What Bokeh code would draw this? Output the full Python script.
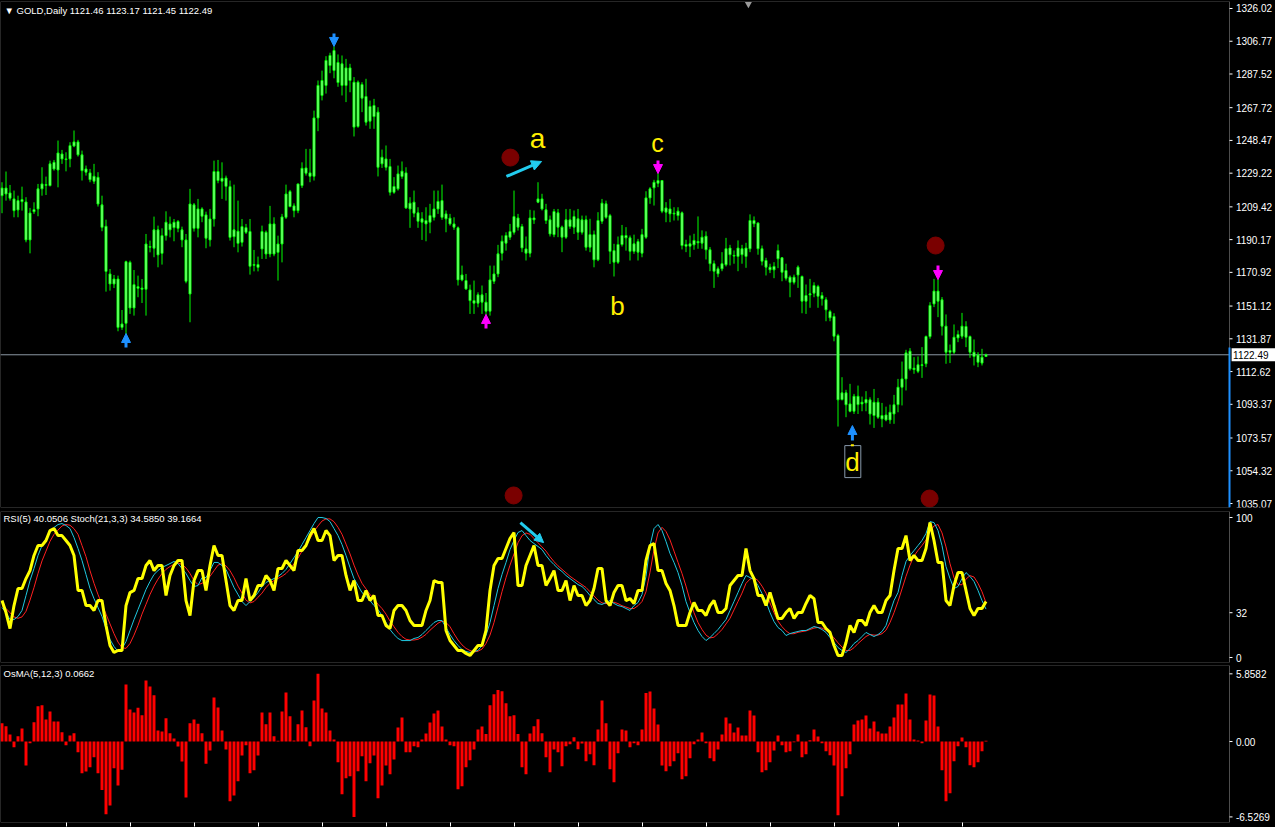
from bokeh.plotting import figure
from bokeh.layouts import column
from bokeh.models import (Range1d, FixedTicker, Label, Arrow, NormalHead,
                          BoxAnnotation, LinearAxis)
from bokeh.core.properties import value
from bokeh.embed import file_html
from bokeh.resources import INLINE

# ---------------- data (GOLD daily) ----------------
high = [1223.9,1230.2,1222.3,1219.0,1216.0,1221.3,1215.1,1208.8,1212.1,1222.9,
        1232.7,1227.2,1236.6,1237.0,1248.4,1242.9,1241.5,1247.4,1254.3,1248.8,
        1242.5,1233.7,1231.7,1234.7,1229.8,1216.0,1201.9,1172.9,1169.4,1169.0,
        1148.8,1177.8,1177.8,1172.3,1169.0,1167.0,1193.5,1189.6,1203.7,1198.4,
        1196.8,1206.8,1203.7,1202.3,1201.7,1197.8,1193.5,1220.0,1211.7,1214.1,
        1209.2,1206.6,1208.2,1236.6,1237.0,1235.6,1227.8,1224.9,1222.5,1213.1,
        1202.3,1199.4,1202.3,1184.1,1180.2,1198.4,1195.5,1210.0,1203.3,1192.5,
        1205.3,1222.5,1219.4,1211.5,1222.9,1235.6,1243.5,1243.5,1266.0,1283.7,
        1289.5,1298.0,1300.0,1303.7,1299.0,1298.4,1296.4,1293.5,1285.7,1283.7,
        1282.7,1284.7,1271.9,1272.9,1268.0,1243.1,1245.5,1237.6,1226.9,1233.7,
        1236.1,1232.7,1215.1,1219.0,1209.2,1206.3,1209.2,1211.2,1219.0,1219.0,
        1222.5,1207.3,1205.3,1203.3,1197.9,1174.9,1170.0,1163.7,1166.1,1159.2,
        1163.2,1158.8,1174.9,1174.9,1187.1,1192.6,1194.5,1199.4,1219.0,1205.3,
        1199.4,1192.0,1207.7,1207.3,1223.9,1217.1,1211.2,1204.3,1208.2,1208.2,
        1198.4,1208.2,1208.2,1207.3,1208.2,1204.3,1204.3,1202.4,1195.5,1206.3,
        1214.1,1213.1,1205.3,1187.7,1192.0,1198.8,1197.5,1192.6,1193.1,1190.6,
        1196.5,1218.6,1221.0,1225.3,1229.2,1224.9,1212.2,1214.1,1209.2,1209.2,
        1206.7,1190.1,1192.6,1193.6,1203.8,1195.6,1195.0,1185.8,1177.9,1174.4,
        1182.8,1191.2,1187.1,1183.8,1189.7,1187.1,1188.3,1205.0,1203.8,1200.4,
        1186.7,1179.5,1176.0,1176.9,1187.3,1179.9,1176.0,1169.1,1169.6,1175.0,
        1169.1,1163.8,1167.1,1165.1,1163.6,1159.3,1156.3,1148.9,1146.9,1134.8,
        1109.3,1101.9,1105.4,1099.5,1104.4,1097.9,1101.1,1097.5,1102.4,1097.1,
        1094.2,1092.0,1093.2,1098.9,1108.3,1118.5,1125.4,1126.4,1121.1,1121.5,
        1127.0,1133.8,1153.4,1167.1,1167.7,1156.4,1146.2,1128.5,1140.3,1136.8,
        1147.1,1142.2,1133.8,1131.5,1124.0,1126.0,1123.17]
body_top = [1220.5,1220.5,1217.6,1214.1,1213.1,1213.7,1212.3,1205.8,1207.8,1220.0,
        1222.9,1222.5,1234.7,1235.6,1241.1,1240.5,1237.6,1245.4,1247.6,1247.6,
        1240.0,1231.7,1229.4,1227.4,1226.8,1210.6,1198.0,1170.0,1167.0,1167.0,
        1140.6,1177.2,1176.8,1163.7,1162.5,1161.7,1187.6,1186.1,1195.9,1195.9,
        1192.5,1200.4,1199.4,1200.4,1200.8,1195.9,1190.0,1211.1,1210.6,1208.2,
        1208.2,1204.7,1202.3,1230.2,1230.2,1226.2,1226.4,1221.3,1195.9,1195.1,
        1197.8,1197.2,1194.9,1175.5,1175.5,1194.9,1194.5,1199.4,1199.4,1187.6,
        1203.5,1217.0,1218.4,1210.0,1222.9,1232.1,1232.3,1229.4,1261.7,1280.8,
        1283.7,1295.5,1298.4,1301.3,1294.3,1293.5,1291.1,1291.1,1282.7,1282.7,
        1281.3,1274.3,1268.4,1269.0,1265.1,1238.6,1237.6,1233.1,1221.4,1228.8,
        1230.4,1229.4,1211.6,1212.2,1205.9,1202.4,1201.4,1204.3,1208.2,1212.6,
        1213.1,1205.3,1202.8,1199.4,1197.1,1169.4,1166.1,1160.6,1154.3,1157.7,
        1157.7,1153.4,1166.5,1170.0,1181.8,1189.2,1192.6,1194.9,1203.7,1202.9,
        1197.9,1184.7,1202.9,1202.9,1214.1,1214.1,1207.7,1201.8,1206.7,1205.9,
        1197.5,1201.8,1201.8,1203.7,1202.4,1201.8,1201.8,1193.1,1193.1,1201.4,
        1211.6,1211.2,1204.3,1183.7,1187.3,1192.6,1192.6,1191.2,1187.7,1189.0,
        1193.1,1214.7,1220.0,1223.9,1224.9,1224.9,1208.8,1208.2,1205.7,1206.9,
        1205.9,1187.3,1187.7,1189.7,1189.1,1191.6,1192.2,1184.2,1176.0,1173.0,
        1176.0,1184.8,1185.2,1180.9,1185.2,1184.8,1185.2,1201.4,1201.4,1199.9,
        1184.8,1177.9,1174.0,1174.4,1183.8,1179.5,1172.0,1168.1,1168.1,1174.0,
        1168.5,1157.3,1158.3,1163.2,1162.6,1157.3,1154.8,1147.9,1145.0,1133.8,
        1100.1,1100.1,1093.6,1098.1,1098.1,1094.6,1096.2,1096.0,1094.6,1094.6,
        1086.8,1087.1,1088.7,1093.1,1103.4,1108.3,1123.6,1124.6,1114.6,1116.6,
        1116.6,1133.2,1151.5,1159.9,1159.9,1154.8,1139.3,1125.0,1132.8,1134.4,
        1139.3,1139.1,1133.2,1124.0,1122.4,1121.1,1122.49]
body_bot = [1216.0,1217.0,1214.5,1207.2,1207.6,1212.5,1190.0,1190.0,1206.6,1208.2,
        1220.0,1222.1,1221.9,1231.7,1231.1,1237.6,1237.2,1237.6,1245.2,1240.0,
        1230.7,1229.8,1225.4,1224.5,1211.1,1197.4,1171.5,1164.1,1164.1,1138.6,
        1138.6,1141.0,1150.0,1150.0,1161.6,1161.0,1161.0,1185.7,1185.1,1181.2,
        1182.1,1192.5,1195.9,1197.2,1196.8,1190.0,1165.7,1158.2,1196.8,1196.8,
        1203.9,1191.0,1190.0,1202.3,1224.9,1224.5,1221.5,1191.5,1191.9,1188.0,
        1188.6,1194.5,1174.5,1175.1,1173.9,1184.7,1181.7,1181.7,1181.7,1182.7,
        1187.6,1203.3,1209.6,1207.2,1207.2,1221.9,1229.2,1227.4,1227.4,1261.7,
        1274.9,1280.8,1292.5,1289.6,1282.5,1280.8,1280.8,1283.7,1256.3,1256.7,
        1273.3,1259.2,1259.8,1262.5,1232.7,1234.7,1232.7,1218.0,1218.0,1220.0,
        1227.3,1208.8,1208.2,1205.7,1201.0,1200.4,1199.4,1200.4,1203.3,1208.2,
        1203.3,1202.4,1199.4,1197.5,1166.5,1166.5,1161.2,1154.3,1152.8,1152.8,
        1153.4,1148.1,1148.1,1165.7,1170.0,1182.2,1188.1,1191.6,1194.5,1197.5,
        1185.3,1182.2,1182.2,1201.8,1212.2,1208.2,1201.4,1193.5,1193.1,1197.5,
        1191.6,1191.6,1197.9,1197.5,1194.5,1194.5,1185.7,1185.7,1178.3,1178.3,
        1201.0,1203.3,1183.3,1176.9,1176.9,1187.3,1191.2,1183.3,1183.3,1182.8,
        1182.2,1191.6,1214.7,1220.6,1223.3,1206.9,1206.3,1205.3,1205.3,1204.3,
        1186.7,1186.3,1186.3,1187.1,1188.3,1188.1,1184.2,1176.0,1171.6,1170.1,
        1173.0,1175.4,1181.3,1180.5,1180.3,1181.3,1180.3,1184.8,1199.5,1184.8,
        1177.5,1174.0,1172.4,1172.4,1178.9,1171.0,1167.5,1165.1,1165.1,1169.4,
        1154.0,1154.0,1157.7,1158.7,1156.9,1155.4,1148.9,1144.2,1133.4,1096.0,
        1096.2,1093.1,1089.3,1089.3,1093.2,1093.6,1094.2,1087.7,1086.8,1085.8,
        1084.8,1084.2,1084.2,1087.7,1093.2,1103.4,1108.3,1114.2,1113.8,1112.8,
        1116.2,1117.2,1133.2,1152.4,1154.0,1139.3,1124.0,1124.0,1124.0,1132.4,
        1133.4,1132.8,1124.0,1121.5,1118.1,1117.6,1121.46]
low = [1205.7,1213.1,1213.1,1203.3,1203.3,1207.2,1188.6,1182.1,1205.3,1203.9,
        1216.0,1216.4,1221.5,1230.7,1220.9,1234.7,1230.3,1232.7,1244.5,1239.0,
        1224.9,1227.8,1223.9,1222.9,1209.6,1195.1,1159.6,1160.2,1161.7,1136.3,
        1137.1,1134.7,1146.5,1145.5,1156.3,1152.9,1145.5,1182.7,1179.8,1173.9,
        1175.5,1189.6,1191.5,1189.2,1194.5,1185.7,1164.5,1141.6,1194.9,1191.5,
        1200.4,1185.1,1186.1,1197.8,1223.3,1214.1,1213.1,1189.6,1185.7,1182.7,
        1186.1,1193.5,1169.6,1171.5,1171.5,1178.8,1178.8,1179.8,1180.4,1166.1,
        1176.8,1202.3,1209.2,1203.3,1205.7,1220.5,1227.8,1223.9,1224.9,1253.9,
        1272.0,1276.0,1288.0,1285.0,1280.0,1274.9,1271.0,1276.8,1250.8,1255.9,
        1265.1,1257.2,1255.3,1255.3,1227.3,1232.3,1230.8,1216.1,1217.1,1219.0,
        1225.9,1208.2,1197.1,1203.3,1197.1,1190.0,1189.2,1193.9,1201.4,1205.3,
        1201.8,1194.5,1198.4,1195.9,1163.2,1165.7,1160.6,1146.5,1146.5,1150.4,
        1146.5,1144.5,1145.5,1164.1,1168.1,1177.9,1183.7,1190.0,1193.1,1195.5,
        1182.8,1177.9,1179.8,1199.4,1211.6,1207.3,1199.4,1192.0,1191.6,1191.6,
        1182.8,1190.6,1196.5,1193.5,1190.0,1193.1,1183.7,1182.8,1173.9,1177.5,
        1199.4,1202.4,1175.9,1168.5,1175.9,1186.1,1183.7,1177.9,1181.8,1177.9,
        1179.8,1190.6,1211.2,1210.2,1221.0,1205.7,1200.4,1200.4,1201.4,1201.4,
        1184.4,1182.8,1179.9,1184.2,1184.8,1184.8,1178.5,1171.6,1161.8,1168.1,
        1171.6,1174.4,1175.0,1176.0,1171.6,1176.0,1173.6,1182.8,1197.5,1181.3,
        1175.0,1169.1,1170.5,1167.5,1173.4,1165.7,1166.1,1156.3,1163.8,1161.8,
        1146.9,1146.5,1150.1,1156.3,1150.1,1151.4,1142.2,1142.2,1130.4,1080.3,
        1095.6,1085.8,1088.7,1087.7,1087.7,1089.3,1089.3,1081.5,1079.5,1084.8,
        1079.9,1083.4,1081.9,1081.9,1088.7,1092.7,1101.5,1113.2,1111.3,1111.7,
        1108.9,1115.2,1131.9,1150.5,1144.6,1133.8,1117.2,1117.6,1123.0,1129.9,
        1131.9,1127.0,1120.7,1116.2,1115.2,1116.2,1121.45]

rsi = [40.7,32.1,20.7,37.1,49.3, 49.3,56.4,62.1,72.9,80.0, 80.0,83.6,90.7,92.1,87.1,
       87.1,83.6,80.0,72.9,47.9, 47.9,37.1,37.1,33.6,40.7, 40.7,22.9,8.6,3.6,5.0,
       5.0,37.1,46.4,47.9,56.4, 56.4,65.7,69.3,62.1,65.7, 65.7,44.3,58.6,65.7,69.3,
       69.3,40.7,30.0,55.0,62.1, 62.1,47.9,65.7,80.0,72.9, 72.9,55.0,37.1,33.6,40.7,
       40.7,56.4,40.7,44.3,51.4, 51.4,58.6,55.0,47.9,63.6, 63.6,69.3,65.7,62.1,76.4,
       76.4,80.0,87.1,92.1,83.6, 83.6,90.7,87.1,69.3,72.9, 72.9,58.6,47.9,55.0,40.7,
       40.7,47.9,40.7,44.3,30.0, 30.0,22.9,20.7,33.6,37.1, 37.1,33.6,26.4,22.9,22.9,
       22.9,33.6,40.7,55.0,53.6, 53.6,19.3,12.1,8.6,5.0, 5.0,2.9,1.4,5.0,8.6,
       8.6,19.3,47.9,65.7,70.7, 70.7,77.9,85.0,89.3,51.4, 51.4,65.7,72.9,80.0,65.7,
       65.7,51.4,56.4,62.1,47.9, 47.9,55.0,40.7,51.4,44.3, 44.3,37.1,40.7,49.3,63.6,
       63.6,40.7,37.1,46.4,51.4, 51.4,40.7,42.1,38.6,47.9, 47.9,69.3,80.0,81.4,62.1,
       62.1,52.9,47.9,37.1,22.9, 22.9,22.9,32.1,39.3,33.6, 33.6,30.0,37.1,40.7,32.1,
       32.1,35.0,51.4,55.0,58.6, 58.6,77.9,62.1,56.4,44.3, 44.3,37.1,46.4,37.1,27.9,
       27.9,32.1,35.0,27.9,32.1, 32.1,38.6,44.3,42.1,25.0, 25.0,20.7,17.9,8.6,1.4,
       1.4,10.7,22.9,17.9,26.4, 26.4,22.9,32.1,37.1,32.1, 32.1,40.7,44.3,62.1,77.9,
       77.9,87.1,69.3,72.9,69.3, 69.3,77.9,96.4,83.6,67.9, 67.9,40.7,37.1,51.4,60.7,
       60.7,47.9,35.0,30.0,35.0, 35.0,40.05]
stoch_main = [35.7,32.1,27.1,27.1,29.3,33.6,44.3,55.0,63.6,72.9,
       80.0,85.0,90.0,92.9,95.0,95.7,94.3,92.1,85.7,77.9,
       69.3,59.3,49.3,42.1,35.7,29.3,20.7,12.9,7.9,4.3,
       6.4,11.4,19.3,27.1,34.3,41.4,48.6,54.3,59.3,62.1,
       64.3,65.7,67.1,68.6,67.1,63.6,60.0,55.0,50.7,51.4,
       57.1,57.1,62.1,67.9,67.9,65.7,62.9,56.4,50.0,45.0,
       40.0,37.1,40.0,42.9,46.4,50.7,53.6,55.0,56.4,57.9,
       60.0,62.9,67.1,71.4,75.7,80.7,85.7,90.7,95.7,100.0,
       100.0,99.3,97.1,92.1,87.1,80.7,72.9,64.3,56.4,51.4,
       46.4,43.6,40.7,37.1,34.3,30.0,25.0,20.0,16.4,13.6,
       12.1,12.1,12.1,13.6,14.3,16.4,19.3,22.1,25.0,26.4,
       26.4,21.4,16.4,12.1,8.6,5.7,4.3,3.6,4.3,5.0,
       8.6,15.7,25.0,37.1,49.3,59.3,67.9,77.1,83.6,89.3,
       90.7,87.1,83.6,81.4,79.3,77.1,72.9,69.3,66.4,63.6,
       61.4,58.6,56.4,54.3,52.1,50.7,47.9,44.3,41.4,38.6,
       37.9,39.3,40.7,38.6,37.1,36.4,35.0,33.6,37.1,39.3,
       45.0,57.9,80.0,92.1,95.0,90.7,82.9,74.3,67.9,60.7,
       51.4,40.0,32.1,25.0,19.3,15.0,12.1,14.3,17.1,20.0,
       23.6,27.1,33.6,40.0,46.4,52.9,58.6,57.1,55.7,51.4,
       45.7,40.0,32.1,25.7,21.4,19.3,15.7,17.1,17.9,18.6,
       19.3,19.3,20.7,22.1,21.4,20.0,17.9,14.3,10.7,7.1,
       5.0,3.6,6.4,10.0,12.1,15.0,17.9,16.4,15.0,16.4,
       18.6,22.9,32.1,40.7,46.4,58.6,68.6,72.9,76.4,80.0,
       83.6,88.6,97.1,96.4,90.7,80.0,65.0,56.4,49.3,50.7,
       56.4,60.7,57.9,54.3,47.9,40.7,34.585]
stoch_signal = [37.0,35.0,32.0,29.0,28.0,29.0,33.0,41.0,50.0,60.0,
       69.0,76.0,83.0,88.0,91.0,94.0,95.0,94.5,92.0,88.0,
       80.0,72.0,62.0,53.0,45.0,38.0,31.0,24.0,17.0,11.0,
       7.0,6.5,10.0,16.0,23.0,31.0,38.0,45.0,51.0,56.0,
       60.0,63.0,65.0,66.5,67.5,66.5,64.0,60.0,55.0,52.0,
       53.0,55.0,58.0,62.0,66.0,67.0,65.5,62.0,57.0,51.0,
       46.0,41.0,39.0,40.0,43.0,46.0,50.0,53.0,55.0,56.5,
       58.0,60.0,63.0,67.0,71.0,76.0,80.0,85.0,90.0,94.0,
       97.5,99.0,99.0,97.0,93.0,88.0,81.0,74.0,66.0,59.0,
       53.0,49.0,45.0,42.0,38.0,35.0,31.0,26.0,22.0,18.0,
       15.0,13.0,12.5,12.5,13.0,14.5,16.5,19.5,22.0,24.5,
       26.0,25.0,22.0,17.0,12.5,9.0,6.5,5.0,4.0,4.5,
       6.0,10.0,16.0,25.0,36.0,47.0,57.0,66.0,74.0,82.0,
       87.0,89.0,88.0,85.0,82.0,79.0,76.0,72.0,68.5,65.5,
       63.0,60.5,58.0,56.0,54.0,52.0,50.0,47.0,44.0,41.0,
       39.0,38.5,39.0,39.5,38.5,37.0,36.0,35.0,35.0,37.0,
       40.0,47.0,61.0,77.0,89.0,93.0,90.0,84.0,76.0,68.0,
       60.0,51.0,41.0,32.0,25.0,20.0,16.0,14.0,14.5,17.0,
       20.0,24.0,28.0,34.0,40.0,46.0,53.0,56.0,57.0,55.0,
       51.0,46.0,39.0,32.0,26.0,22.0,19.0,17.0,17.0,18.0,
       18.5,19.0,20.0,21.0,21.5,21.0,19.5,17.0,14.0,10.5,
       7.5,5.0,5.0,7.0,10.0,12.5,15.0,16.5,16.0,16.0,
       17.0,19.5,25.0,32.0,40.0,49.0,58.0,66.0,72.5,76.5,
       80.0,84.0,90.0,94.0,95.0,89.0,79.0,67.0,57.0,52.0,
       52.0,56.0,58.5,57.5,53.0,47.0,39.17]

osma = [1.59,1.33,0.61,-0.49,0.46,1.13,-2.08,-0.14,1.67,3.06,
        3.15,1.90,2.60,1.73,1.73,0.81,-0.32,0.52,0.72,-0.92,
        -2.74,-2.60,-2.22,-1.36,-2.74,-4.19,-6.29,-5.54,-2.31,-3.81,
        -2.45,4.94,2.77,2.51,2.92,2.28,5.28,4.76,4.01,0.95,
        0.87,2.02,0.72,0.26,-0.43,-1.73,-4.85,1.59,1.90,1.53,
        0.72,-1.93,-0.78,3.81,2.94,0.95,-0.69,-5.17,-4.68,-3.44,
        -1.21,-0.32,-2.74,-2.48,-1.21,2.51,1.50,2.51,0.46,0.06,
        2.60,4.24,2.19,0.09,1.50,2.68,1.24,-0.40,3.55,5.8582,
        2.86,2.51,0.95,0.17,-1.79,-4.56,-3.18,-3.00,-6.5269,-2.57,
        -1.27,-3.44,-1.88,-1.21,-4.91,-3.81,-2.08,-2.83,-1.56,1.21,
        2.08,-0.92,-0.92,-0.40,-0.49,0.17,0.69,1.65,2.43,2.68,
        1.30,0.17,-0.32,-0.40,-4.13,-3.87,-2.22,-1.62,-0.69,1.04,
        1.30,0.64,3.15,4.10,4.45,4.36,3.32,2.19,2.28,0.64,
        -2.22,-2.83,0.69,1.33,1.93,0.72,-1.36,-2.66,-0.69,-0.92,
        -2.14,-0.40,-0.23,0.38,-0.66,-0.17,-1.70,-1.10,-2.05,1.04,
        3.55,1.59,-2.40,-3.52,-1.01,1.04,0.95,-0.49,-0.14,-0.32,
        1.04,4.19,4.33,2.86,1.47,-2.08,-2.57,-2.14,-1.70,-1.01,
        -3.26,-3.00,-1.44,-0.23,0.17,0.78,-0.14,-1.44,-1.70,-0.69,
        0.61,2.08,1.56,0.78,1.21,0.52,0.52,2.68,2.25,-0.92,
        -2.66,-2.48,-1.79,-0.78,0.52,-0.32,-0.92,-0.84,-0.06,0.61,
        -1.36,-1.10,0.12,1.04,0.43,-0.14,-0.84,-1.18,-2.08,-6.38,
        -4.73,-2.31,-1.10,1.47,1.82,1.90,2.25,1.13,1.73,0.87,
        0.69,0.69,1.30,2.08,3.20,3.20,4.16,1.90,0.17,0.09,
        -0.14,1.82,4.07,3.98,1.30,-2.48,-5.17,-4.47,-1.70,-0.40,
        0.35,-0.49,-2.05,-2.22,-1.79,-0.84,0.0662]

price_ticks = [1035.07,1054.32,1073.57,1093.37,1112.62,1131.87,1151.12,1170.92,
               1190.17,1209.42,1229.22,1248.47,1267.72,1287.52,1306.77,1326.02]
price_labels = ["%.2f" % t for t in price_ticks]
last_price = 1122.49
rsi_ticks = [0, 32, 100]
rsi_labels = ["0", "32", "100"]
osma_ticks = [-6.5269, 0, 5.8582]
osma_labels = ["-6.5269", "0.00", "5.8582"]
date_ticks = list(range(16, 241, 16))

# annotations (bar index, value)
dot_bar = [127.1, 233.4, 127.9, 231.9]
dot_price = [1238.4, 1186.7, 1039.8, 1038.0]
arrow_bar = [31, 83, 121, 164, 234, 212.6]
arrow_tail = [1126.8, 1311.3, 1137.9, 1236.7, 1174.9, 1072.1]
arrow_tip = [1135.0, 1303.7, 1146.2, 1229.0, 1166.7, 1080.9]
arrow_color = ["#1e90ff", "#1e90ff", "#ff00ff", "#ff00ff", "#ff00ff", "#1e90ff"]
letters = ["a", "b", "c", "d"]
letter_bar = [133.9, 153.9, 163.9, 212.6]
letter_price = [1249.6, 1151.4, 1246.7, 1059.2]
letter_size = ["28px", "26px", "25px", "26px"]

n = len(high)
bars = list(range(n))

FONT = "Liberation Sans"
GREEN = "#00ff00"
CYAN = "#22ccee"
X0 = -0.375          # left edge of the plot area (bar units)
XR = 306.875         # right border of the plot area (bar units)
XFULL = 318.375      # right edge of the page (bar units)


def panel(h, y0, y1, top, bottom, ticks, labels):
    p = figure(width=1275, height=h, x_range=Range1d(X0, XFULL), y_range=Range1d(y0, y1),
               output_backend="svg", toolbar_location=None,
               x_axis_location=None, y_axis_location=None,
               min_border_left=0, min_border_right=0,
               min_border_top=top, min_border_bottom=bottom,
               background_fill_color="black", border_fill_color="black",
               outline_line_color=None)
    p.grid.visible = False
    p.add_layout(BoxAnnotation(right=XR, fill_alpha=0, line_color="white", line_width=1))
    k = len(ticks)
    p.segment(x0=[XR] * k, x1=[XR + 0.75] * k, y0=ticks, y1=ticks,
              line_color="white", line_width=1)
    p.text(x=[XR + 1.6] * k, y=ticks, text=labels, text_color="white",
           text_font=value(FONT), text_font_size="10px",
           text_baseline="middle", text_align="left")
    return p


# ---------------- main price panel ----------------
p1 = panel(510, 1032.72, 1330.13, 1, 3, price_ticks, price_labels)
p1.segment(x0=[X0], x1=[XR], y0=[last_price], y1=[last_price], line_color="#8a96a3", line_width=1)
p1.segment(x0=bars, y0=low, x1=bars, y1=high, line_color=GREEN, line_width=1)
p1.vbar(x=bars, top=body_top, bottom=body_bot, width=0.5,
        fill_color="#a8ffa8", line_color=GREEN, line_width=1)

p1.scatter(x=dot_bar, y=dot_price, size=17, marker="circle",
           fill_color="#7a0000", line_color="#7a0000")
for xb, yt, yh, c in zip(arrow_bar, arrow_tail, arrow_tip, arrow_color):
    p1.add_layout(Arrow(end=NormalHead(size=9, fill_color=c, line_color=c, line_width=1),
                        x_start=xb, y_start=yt, x_end=xb, y_end=yh,
                        line_color=c, line_width=3))
p1.add_layout(Arrow(end=NormalHead(size=10, fill_color=CYAN, line_color=CYAN),
                    x_start=126.1, y_start=1227.3, x_end=134.9, y_end=1236.1,
                    line_color=CYAN, line_width=3))
for t, xb, yp, fs in zip(letters, letter_bar, letter_price, letter_size):
    p1.add_layout(Label(x=xb, y=yp, text=t, text_color="#ffee00", text_font=FONT,
                        text_font_size=fs, text_align="center", text_baseline="middle"))
p1.rect(x=[212.7], y=[1059.7], width=16, height=32, width_units="screen",
        height_units="screen", fill_color=None, line_color="#8899aa", line_width=1)
p1.rect(x=[212.6], y=[1069.3], width=3, height=2, width_units="screen",
        height_units="screen", fill_color="#ffee00", line_color=None)

p1.add_layout(BoxAnnotation(left=XR - 0.25, right=XR + 0.25, top=1126.8,
                            fill_color="#1e90ff", fill_alpha=1, line_color=None))
p1.rect(x=[312.9], y=[last_price], width=44, height=13, width_units="screen",
        height_units="screen", fill_color="white", line_color=None)
p1.text(x=[XR + 0.9], y=[last_price], text=["1122.49"], text_color="black",
        text_font=value(FONT), text_font_size="10px", text_baseline="middle",
        text_align="left")

p1.add_layout(Label(x=X0, y=1330.13, x_offset=4, y_offset=-3,
                    text="\u25bc GOLD,Daily  1121.46 1123.17 1121.45 1122.49",
                    text_color="white", text_font=FONT, text_font_size="9.5px",
                    text_baseline="top"))
p1.scatter(x=[186.6], y=[1328.6], marker="inverted_triangle", size=7,
           fill_color="#9a9a9a", line_color=None)

# ---------------- RSI / Stoch panel ----------------
p2 = panel(154, -3.57, 104.3, 1, 2, rsi_ticks, rsi_labels)
p2.line(x=bars, y=stoch_signal, line_color="#ff2020", line_width=1)
p2.line(x=bars, y=stoch_main, line_color="#20c8e0", line_width=1)
p2.line(x=bars, y=rsi, line_color="#ffff00", line_width=3)
p2.add_layout(Arrow(end=NormalHead(size=9, fill_color=CYAN, line_color=CYAN),
                    x_start=129.6, y_start=96.4, x_end=135.4, y_end=82.1,
                    line_color=CYAN, line_width=3))
p2.add_layout(Label(x=X0, y=104.3, x_offset=3, y_offset=-1,
                    text="RSI(5) 40.0506  Stoch(21,3,3) 34.5850 39.1664",
                    text_color="white", text_font=FONT, text_font_size="9.5px",
                    text_baseline="top"))

# ---------------- OsMA panel ----------------
p3 = panel(163, -7.01, 6.58, 1, 5, osma_ticks, osma_labels)
p3.vbar(x=bars, top=osma, bottom=0, width=0.74, fill_color="#ff0000", line_color=None)
p3.add_layout(Label(x=X0, y=6.58, x_offset=3, y_offset=-2,
                    text="OsMA(5,12,3) 0.0662", text_color="white", text_font=FONT,
                    text_font_size="9.5px", text_baseline="top"))
xax = LinearAxis(ticker=FixedTicker(ticks=date_ticks),
                 major_label_overrides={t: "" for t in date_ticks},
                 axis_line_color=None, major_tick_line_color="white", major_tick_out=4,
                 major_tick_in=0, minor_tick_line_color=None, major_label_standoff=0,
                 major_label_text_font_size="1px")
p3.add_layout(xax, "below")

layout = column(p1, p2, p3, spacing=0, background="black")
open("out.html", "w").write(file_html(layout, INLINE))
